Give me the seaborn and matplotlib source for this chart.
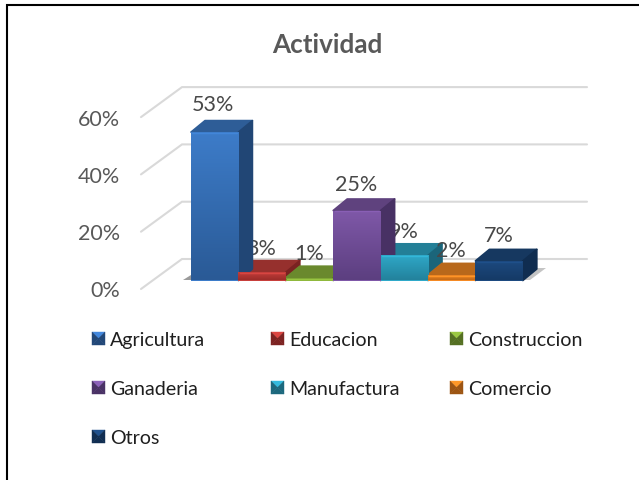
import numpy as np
import pandas as pd
import matplotlib
matplotlib.use("Agg")
import matplotlib.pyplot as plt
import seaborn as sns
from matplotlib.patches import Polygon, Rectangle
from matplotlib.colors import LinearSegmentedColormap, to_rgb

categories = ["Agricultura", "Educacion", "Construccion", "Ganaderia", "Manufactura", "Comercio", "Otros"]
values = [53, 3, 1, 25, 9, 2, 7]
labels = ["53%", "3%", "1%", "25%", "9%", "2%", "7%"]
tops = ["#3d7cc9", "#c8403c", "#8db63c", "#7f58a8", "#2fa9c9", "#f58a24", "#1d4a80"]
bottoms = ["#2a5a96", "#9c2c2a", "#6a8c2c", "#5c3f80", "#23829c", "#c46a18", "#153a66"]
tick_values = [0, 20, 40, 60]
tick_labels = ["0%", "20%", "40%", "60%"]
title = "Actividad"

W, H = 639, 481
GREY = "#595959"
sns.set_theme(style="white")
plt.rcParams["font.family"] = ["Lato", "DejaVu Sans"]

fig = plt.figure(figsize=(W / 100, H / 100), dpi=100)
# the axes fill the figure; x is in categories, y in percent, at these scales
bar_px = 47.4
pct_px = 2.8
x0_px, y0_px = 191, 281.5
ax = fig.add_axes([0, 0, 1, 1])
df = pd.DataFrame({"cat": categories, "val": values})
sns.barplot(data=df, x="cat", y="val", hue="cat", palette=tops, width=1, legend=False,
            ax=ax, saturation=1, zorder=4, edgecolor="none")
ax.set_xlim(-0.5 - x0_px / bar_px, -0.5 + (W - x0_px) / bar_px)
ax.set_ylim(-(H - y0_px) / pct_px, y0_px / pct_px)
ax.axis("off")

def px(x, y):
    return (-0.5 + (x - x0_px) / bar_px, (y0_px - y) / pct_px)

# frame: only the top and left edges show in the picture
frame = [px(7, 481), px(7, 6), px(639, 6)]
ax.plot([p[0] for p in frame], [p[1] for p in frame], color="black", lw=1.5, zorder=1,
        solid_joinstyle="miter")

# back wall gridlines and left wall
for tv, tl in zip(tick_values, tick_labels):
    yb = 260 - tv * 2.865
    yf = yb + 30
    xs = [px(141, yf), px(182, yb), px(587, yb)]
    ax.plot([p[0] for p in xs], [p[1] for p in xs], color="#d9d9d9", lw=1.5, zorder=2,
            solid_joinstyle="miter")
    lx, ly = px(120, yf + 1.5)
    ax.text(lx, ly, tl, ha="right", va="center", fontsize=15.5, color=GREY, zorder=8)

# floor shadow
ax.add_patch(Polygon([px(183, 281), px(191, 276), px(191, 281)], closed=True, fc="#9a9a9a", ec="none", zorder=3))
ax.add_patch(Polygon([px(523, 281), px(537, 269), px(546, 269), px(530, 281)], closed=True,
                     fc="#c4c4c4", ec="none", zorder=3))

# 3D faces derived from the seaborn bars
dx_d, dy_d = 14 / bar_px, 11.5 / pct_px
grad = np.linspace(0, 1, 64).reshape(-1, 1)
bars = [p for p in ax.patches if isinstance(p, Rectangle)]
for bar, top, bot, val in zip(bars, tops, bottoms, values):
    x, w, h = bar.get_x(), bar.get_width(), bar.get_height()
    t = np.array(to_rgb(top)); b = np.array(to_rgb(bot))
    dark = b * 0.78
    mid = t * 0.75
    z = 3.7 if val > 20 else 3.2
    ax.add_patch(Polygon([(x, h), (x + dx_d, h + dy_d), (x + w + dx_d, h + dy_d), (x + w, h)],
                         closed=True, fc=mid, ec=mid, lw=1.2, zorder=z, joinstyle="round"))
    ax.add_patch(Polygon([(x + w, 0), (x + w + dx_d, dy_d), (x + w + dx_d, h + dy_d), (x + w, h)],
                         closed=True, fc=dark, ec=dark, lw=1.2, zorder=z, joinstyle="round"))
    cmap = LinearSegmentedColormap.from_list("g", [top, bot])
    im = ax.imshow(grad, extent=[x, x + w, 0, h], origin="upper", cmap=cmap, aspect="auto", zorder=5)
    im.set_clip_path(bar)
    # lit rim along the front top edge
    rim = np.minimum(t * 1.08, 1)
    ax.plot([x + 0.03, x + w - 0.03], [h - 0.3, h - 0.3], color=rim, lw=1.0, zorder=6)

ax.set_xlim(-0.5 - x0_px / bar_px, -0.5 + (W - x0_px) / bar_px)
ax.set_ylim(-(H - y0_px) / pct_px, y0_px / pct_px)

# data labels sit behind the side faces of the tall bars
label_pos = [(213, 105), (261, 249), (309, 254), (356, 185), (404, 232), (451, 251), (499, 236)]
for (lx, ly), lab in zip(label_pos, labels):
    tx, ty = px(lx, ly)
    ax.text(tx, ty, lab, ha="center", va="center", fontsize=15.5, color="#484848", zorder=3.5)

# title
tx, ty = px(327, 45.5)
ax.text(tx, ty, title, ha="center", va="center", fontsize=18.8, fontweight="bold", color=GREY, zorder=9)

# legend
cols = [92, 271, 450]
rows = [339.5, 388.5, 437.5]
for i, (cat, top, bot) in enumerate(zip(categories, tops, bottoms)):
    cx, cy = cols[i % 3], rows[i // 3]
    s = 6.5
    t = np.array(to_rgb(top)); b = np.array(to_rgb(bot))
    c = (cx + s, cy)
    corners = [(cx, cy - s), (cx + 2 * s, cy - s), (cx + 2 * s, cy + s), (cx, cy + s)]
    cols_face = [np.minimum(t * 1.1, 1), b * 0.8, b * 0.8, b * 0.8]
    for k in range(4):
        ax.add_patch(Polygon([px(*corners[k]), px(*corners[(k + 1) % 4]), px(*c)], closed=True,
                             fc=cols_face[k], ec=cols_face[k], lw=0.3, zorder=6))
    lx, ly = px(cx + 18, cy + 1)
    ax.text(lx, ly, cat, ha="left", va="center", fontsize=14.1, color="#1f1f1f", zorder=9)

fig.savefig("out.png", dpi=100)
